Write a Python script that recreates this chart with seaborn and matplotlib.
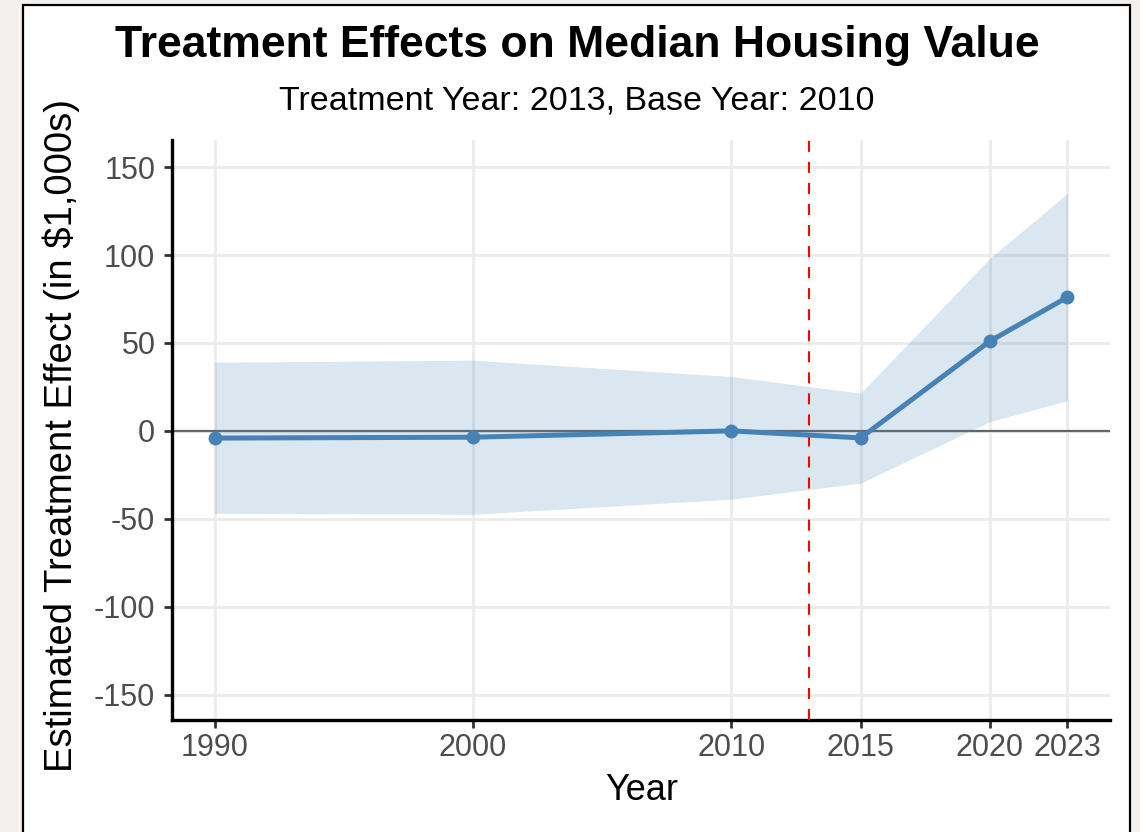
import matplotlib
matplotlib.use("Agg")
import matplotlib.pyplot as plt
import seaborn as sns
import pandas as pd
from matplotlib.patches import Rectangle

# Event-study estimates
years = [1990, 2000, 2010, 2015, 2020, 2023]
estimate = [-4.1, -3.6, 0.0, -4.0, 51.0, 76.0]
ci_low = [-46.8, -47.4, -38.8, -29.7, 5.3, 17.2]
ci_high = [39.0, 40.2, 30.9, 21.4, 98.1, 135.0]
y_ticks = [-150, -100, -50, 0, 50, 100, 150]
treatment_year = 2013

df = pd.DataFrame({"Year": years, "Estimate": estimate, "Low": ci_low, "High": ci_high})

sns.set_theme(style="whitegrid")
plt.rcParams["font.family"] = ["Liberation Sans", "DejaVu Sans"]

fig = plt.figure(figsize=(11.4, 8.32), dpi=100)
fig.patch.set_facecolor("#f3f0ed")
# white panel with thin black frame, behind everything
fig.patches.append(Rectangle((23 / 1140, -0.01), (1130 - 23) / 1140, 1 - 5 / 832 + 0.01,
                             transform=fig.transFigure, facecolor="white",
                             edgecolor="black", linewidth=1.6, zorder=-10))

ax = fig.add_axes([172 / 1140, 1 - 720 / 832, (1110 - 172) / 1140, (720 - 140) / 832])
ax.set_zorder(1)
ax.set_facecolor("white")

ax.fill_between(df["Year"], df["Low"], df["High"], color="steelblue", alpha=0.2,
                linewidth=0, zorder=3)
ax.axhline(0, color="#666666", linewidth=1.6, zorder=2)
ax.axvline(treatment_year, color="red", linestyle=(0, (5.3, 4.8)), linewidth=1.5, zorder=4)
sns.lineplot(data=df, x="Year", y="Estimate", ax=ax, color="steelblue", linewidth=3.6,
             marker="o", markersize=10, markeredgewidth=0, zorder=5)

ax.set_xlim(1988.35, 2024.65)
ax.set_ylim(-164.4, 165.4)
ax.set_xticks(years)
ax.set_yticks(y_ticks)
ax.set_xticklabels([str(y) for y in years])
ax.set_yticklabels([str(t) for t in y_ticks])

ax.grid(True, color="#ebebeb", linewidth=2)
ax.set_axisbelow(True)
for side in ["top", "right"]:
    ax.spines[side].set_visible(False)
for side in ["left", "bottom"]:
    ax.spines[side].set_visible(True)
    ax.spines[side].set_color("black")
    ax.spines[side].set_linewidth(2.4)

ax.tick_params(axis="both", which="major", length=5.5, width=2, color="#333333",
               labelsize=22, labelcolor="#4d4d4d", direction="out",
               bottom=True, left=True)
ax.tick_params(axis="x", pad=3.5)
ax.tick_params(axis="y", pad=6.5)

ax.set_xlabel("Year", fontsize=26, color="black")
ax.set_ylabel("Estimated Treatment Effect (in $1,000s)", fontsize=27.5, color="black")
ax.xaxis.set_label_coords(0.501, -0.0914)
ax.yaxis.set_label_coords(-0.098, 0.491)

fig.text(577 / 1140, 1 - 45 / 832, "Treatment Effects on Median Housing Value",
         ha="center", va="center", fontsize=32, fontweight="bold", color="black")
fig.text(577 / 1140, 1 - 101 / 832, "Treatment Year: 2013, Base Year: 2010",
         ha="center", va="center", fontsize=24.5, color="black")

fig.savefig("out.png", dpi=100, facecolor=fig.get_facecolor())
